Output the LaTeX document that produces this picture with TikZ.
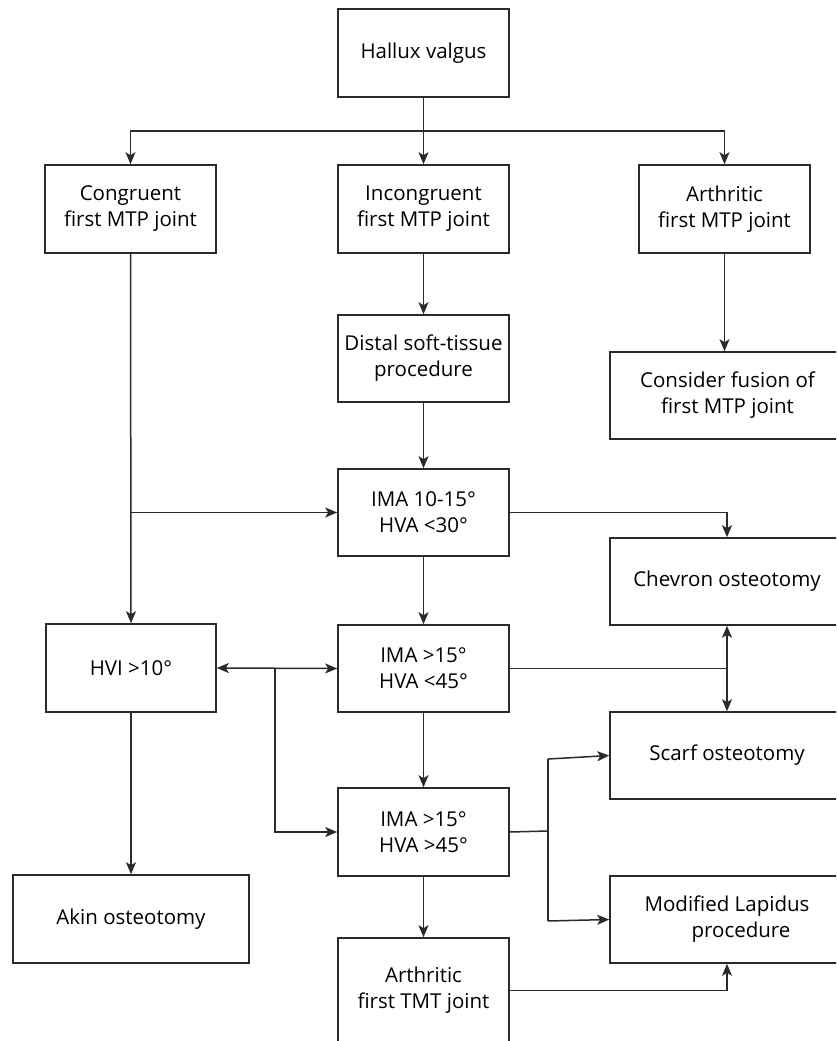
\documentclass[tikz,border=0pt]{standalone}
\usepackage{fontspec}
\setmainfont{Open Sans}
\usetikzlibrary{arrows.meta}
\definecolor{ink}{HTML}{2A2A2A}
\begin{document}
\begin{tikzpicture}[x=1pt,y=-1pt,
  box/.style={draw=ink, line width=1.6pt, rectangle, inner sep=0pt, align=center,
    font=\fontsize{20.5}{26}\selectfont, text=black},
  cline/.style={draw=ink, line width=1.5pt},
  arr/.style={cline, -{Stealth[length=12pt,width=10pt,inset=3pt]}},
  darr/.style={cline, {Stealth[length=12pt,width=10pt,inset=3pt]}-{Stealth[length=12pt,width=10pt,inset=3pt]}}]
\useasboundingbox (0,0) rectangle (836,1041);
\clip (0,0) rectangle (836,1041);
\fill[white] (0,0) rectangle (836,1041);
% nodes
\node[box, minimum width=171pt, minimum height=88pt] (hal) at (423.5,53) {Hallux valgus};
\node[box, minimum width=171pt, minimum height=88pt] (con) at (130.5,209) {Congruent\\first MTP joint};
\node[box, minimum width=171pt, minimum height=88pt] (inc) at (423.5,209) {Incongruent\\first MTP joint};
\node[box, minimum width=171pt, minimum height=88pt] (arm) at (724.5,209) {Arthritic\\first MTP joint};
\node[box, minimum width=171pt, minimum height=87pt] (dst) at (423.5,358.5) {Distal soft-tissue\\procedure};
\node[box, minimum width=235pt, minimum height=87pt] (fus) at (727.5,395.5) {Consider fusion of\\first MTP joint};
\node[box, minimum width=171pt, minimum height=87pt] (ima1) at (423.5,512.5) {IMA 10-15°\\HVA <30°};
\node[box, minimum width=234pt, minimum height=87pt] (chv) at (727,581.5) {Chevron osteotomy};
\node[box, minimum width=170pt, minimum height=88pt] (hvi) at (131,668) {HVI >10°};
\node[box, minimum width=171pt, minimum height=87pt] (ima2) at (423.5,668.5) {IMA >15°\\HVA <45°};
\node[box, minimum width=234pt, minimum height=87pt] (scf) at (727,755.5) {Scarf osteotomy};
\node[box, minimum width=171pt, minimum height=88pt] (ima3) at (423.5,832) {IMA >15°\\HVA >45°};
\node[box, minimum width=236pt, minimum height=88pt] (akn) at (131,919) {Akin osteotomy};
\node[box, minimum width=234pt, minimum height=87pt] (lap) at (727,919.5) {Modified Lapidus\\\hspace*{28pt}procedure};
\node[box, minimum width=171pt, minimum height=105pt] (tmt) at (423.5,990.5) {Arthritic\\first TMT joint};
% coordinates
\coordinate (t) at (423.5,131);
\coordinate (b1) at (130.5,512.5);
\coordinate (m) at (727,668.5);
\coordinate (b2) at (275,668);
\coordinate (b3) at (548,831);
\coordinate (b3t) at (548,759);
\coordinate (b3b) at (548,921);
% connectors
\draw[arr] (hal.south) -- (inc.north);
\draw[arr] (t) -| (con.north);
\draw[arr] (t) -| (arm.north);
\draw[arr] (inc.south) -- (dst.north);
\draw[arr] (dst.south) -- (ima1.north);
\draw[arr] (arm.south) -- (arm.south |- fus.north);
\draw[arr] (con.south) -- (hvi.north);
\draw[arr] (b1) -- (ima1.west);
\draw[arr] (ima1.east) -| (chv.north);
\draw[arr] (ima1.south) -- (ima2.north);
\draw[cline] (ima2.east) -- (m);
\draw[darr] (chv.south) -- (scf.north);
\draw[darr] (hvi.east) -- (ima2.west);
\draw[arr] (b2) |- (ima3.west);
\draw[arr] (hvi.south) -- (akn.north);
\draw[arr] (ima2.south) -- (ima3.north);
\draw[cline] (ima3.east) -- (b3);
\draw[cline] (b3t) -- (b3b);
\draw[arr] (b3t) -- (scf.west);
\draw[arr] (b3b) -- (lap.west);
\draw[arr] (ima3.south) -- (tmt.north);
\draw[arr] (tmt.east) -| (lap.south);
\end{tikzpicture}
\end{document}
